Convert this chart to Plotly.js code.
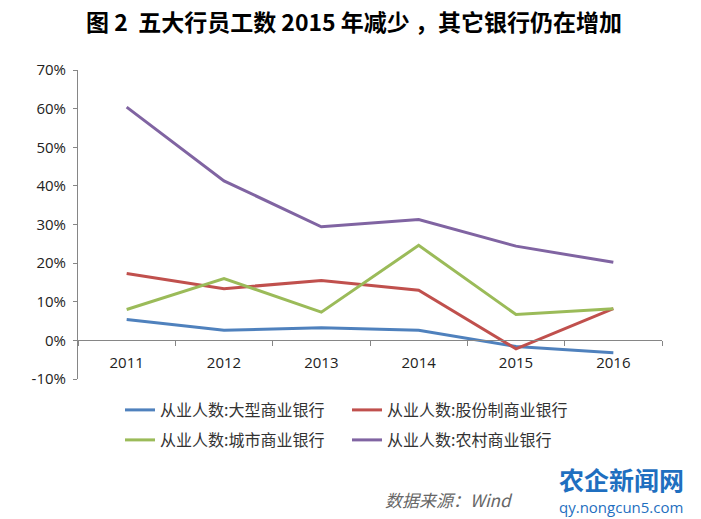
<!DOCTYPE html>
<html>
<head>
<meta charset="utf-8">
<script src="https://cdn.plot.ly/plotly-3.0.1.min.js"></script>
<style>
  html, body { margin: 0; padding: 0; background: #fff; }
  #chart { width: 701px; height: 519px; }
</style>
</head>
<body>
<div id="chart"></div>
<script>
// Values (growth rate of staff numbers)
const years = ['2011', '2012', '2013', '2014', '2015', '2016'];
const bigBanks = [0.054, 0.026, 0.033, 0.026, -0.016, -0.032];
const jointStock = [0.173, 0.134, 0.155, 0.130, -0.022, 0.082];
const cityBanks = [0.080, 0.160, 0.073, 0.246, 0.067, 0.082];
const ruralBanks = [0.604, 0.413, 0.294, 0.313, 0.244, 0.202];
const seriesNames = ['从业人数:大型商业银行', '从业人数:股份制商业银行', '从业人数:城市商业银行', '从业人数:农村商业银行'];
const yTicks = [-0.1, 0, 0.1, 0.2, 0.3, 0.4, 0.5, 0.6, 0.7];
const yTickText = ['-10%', '0%', '10%', '20%', '30%', '40%', '50%', '60%', '70%'];

const colors = ['#4F81BD', '#C0504D', '#9BBB59', '#8064A2'];
const allSeries = [bigBanks, jointStock, cityBanks, ruralBanks];
const legendFor = ['legend', 'legend', 'legend2', 'legend2'];

const traces = allSeries.map((ys, i) => ({
  x: years,
  y: ys,
  type: 'scatter',
  mode: 'lines',
  name: seriesNames[i],
  line: { color: colors[i], width: 3 },
  legend: legendFor[i]
}));

// plot area: x 78..662, y 70..379 (pixels)
const px = x => (x - 78) / 584;
const py = y => (379 - y) / 309;

const axisColor = '#868686';
const tickFont = { family: 'Open Sans, Noto Sans, sans-serif', size: 15, color: '#222' };
const legendFont = { family: 'Noto Sans CJK SC, sans-serif', size: 16, color: '#333' };

const layout = {
  width: 701,
  height: 519,
  margin: { t: 70, b: 140, l: 78, r: 39 },
  paper_bgcolor: '#fff',
  plot_bgcolor: '#fff',
  showlegend: true,
  title: {
    text: '图 2  五大行员工数 2015 年减少 ，其它银行仍在增加',
    font: { family: 'Noto Sans CJK SC, sans-serif', size: 23, color: '#000', weight: 'bold' },
    x: 0.505, xanchor: 'center', xref: 'container',
    y: 1 - 23 / 519, yanchor: 'middle', yref: 'container'
  },
  xaxis: {
    type: 'category',
    range: [-0.5, 5.5],
    anchor: 'free',
    position: 0.125,
    showline: true,
    linecolor: axisColor,
    linewidth: 1,
    ticks: 'outside',
    tickson: 'boundaries',
    ticklen: 5,
    tickcolor: axisColor,
    ticklabelstandoff: 9,
    showgrid: false,
    zeroline: false,
    tickfont: tickFont,
    fixedrange: true
  },
  yaxis: {
    range: [-0.1, 0.7],
    tickvals: yTicks,
    ticktext: yTickText,
    showline: true,
    linecolor: axisColor,
    linewidth: 1,
    ticks: 'outside',
    ticklen: 4,
    tickcolor: axisColor,
    ticklabelstandoff: 4,
    showgrid: false,
    zeroline: false,
    tickfont: tickFont,
    fixedrange: true
  },
  legend: {
    orientation: 'h',
    x: px(120), xanchor: 'left',
    y: py(410), yanchor: 'middle',
    entrywidth: 182, entrywidthmode: 'pixels',
    font: legendFont,
    bgcolor: 'rgba(0,0,0,0)'
  },
  legend2: {
    orientation: 'h',
    x: px(120), xanchor: 'left',
    y: py(440), yanchor: 'middle',
    entrywidth: 182, entrywidthmode: 'pixels',
    font: legendFont,
    bgcolor: 'rgba(0,0,0,0)'
  },
  annotations: [
    {
      text: '数据来源：Wind',
      xref: 'paper', yref: 'paper',
      x: px(383), y: py(499),
      xanchor: 'left', yanchor: 'middle',
      showarrow: false,
      font: { family: 'Noto Sans CJK SC, sans-serif', size: 17, color: '#666', style: 'italic' }
    },
    {
      text: '<b>农企新闻网</b>',
      xref: 'paper', yref: 'paper',
      x: px(621), y: py(479),
      xanchor: 'center', yanchor: 'middle',
      showarrow: false,
      borderpad: 0,
      font: { family: 'Noto Sans CJK SC, sans-serif', size: 25, color: '#1F6FC0' }
    },
    {
      text: 'qy.nongcun5.com',
      xref: 'paper', yref: 'paper',
      x: px(621), y: py(507),
      xanchor: 'center', yanchor: 'middle',
      showarrow: false,
      borderpad: 0,
      font: { family: 'Open Sans, sans-serif', size: 15, color: '#1F6FC0' }
    }
  ]
};

Plotly.newPlot('chart', traces, layout, { displayModeBar: false, staticPlot: true });
</script>
</body>
</html>
